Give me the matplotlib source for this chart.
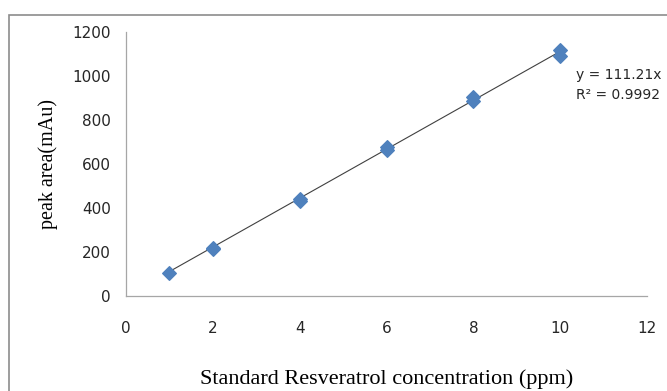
import numpy as np
import matplotlib.pyplot as plt
from matplotlib.patches import Rectangle

# concentration (ppm) and measured peak areas (two injections each)
conc = [1, 2, 2, 4, 4, 6, 6, 8, 8, 10, 10]
area = [105, 214, 219, 434, 440, 664, 678, 888, 904, 1090, 1118]

slope = 111.21
r2 = 0.9992
x_ticks = [0, 2, 4, 6, 8, 10, 12]
y_ticks = [0, 200, 400, 600, 800, 1000, 1200]

fig = plt.figure(figsize=(6.67, 3.91), dpi=100)
ax = fig.add_axes([0.189, 0.243, 0.781, 0.675])

# outer chart border (cropped at right/bottom in the source image)
fig.patches.append(Rectangle((9 / 667, -0.1), 1.2, 1 - 15 / 391 + 0.1,
                             transform=fig.transFigure, fill=False,
                             edgecolor='#8c8c8c', linewidth=1.2))

fit_x = np.array([min(conc), max(conc)])
ax.plot(fit_x, slope * fit_x, color='#404040', linewidth=0.8, zorder=2)
ax.scatter(conc, area, marker='D', s=48, color='#4F81BD', edgecolors='#4F81BD', zorder=3)

ax.set_xlim(0, 12)
ax.set_ylim(0, 1200)
ax.set_xticks(x_ticks)
ax.set_yticks(y_ticks)
ax.tick_params(length=0, labelsize=11, colors='#262626')
ax.tick_params(axis='x', pad=18)
ax.tick_params(axis='y', pad=11)
for side in ['top', 'right']:
    ax.spines[side].set_visible(False)
for side in ['left', 'bottom']:
    ax.spines[side].set_color('#a6a6a6')
    ax.spines[side].set_linewidth(0.9)

ax.set_xlabel('Standard Resveratrol concentration (ppm)', family='Liberation Serif',
              fontsize=16, labelpad=24)
ax.set_ylabel('peak area(mAu)', family='Liberation Serif', fontsize=14.5, labelpad=10)

fig.text(576 / 667, 1 - 75 / 391, 'y = 111.21x', fontsize=10, color='#262626', va='center')
fig.text(576 / 667, 1 - 95 / 391, f'R\u00b2 = {r2}', fontsize=10, color='#262626', va='center')

fig.savefig('out.png', dpi=100)
